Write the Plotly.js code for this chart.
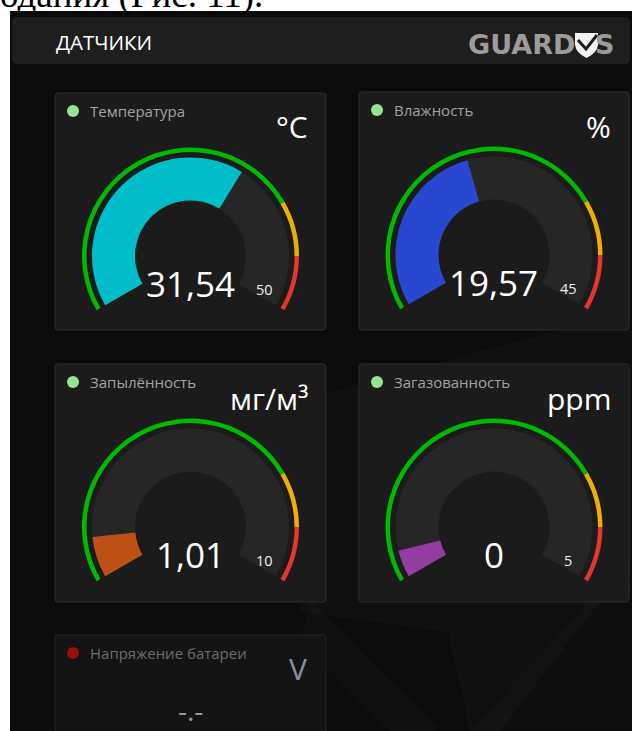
<!DOCTYPE html>
<html>
<head>
<meta charset="utf-8">
<script src="https://cdn.plot.ly/plotly-3.0.1.min.js"></script>
<style>
html,body{margin:0;padding:0;background:#ffffff;overflow:hidden;}
#chart{width:632px;height:731px;}
</style>
</head>
<body>
<div id="chart"></div>
<script>
// ---- data ----
const sensorTitles = ['Температура', 'Влажность', 'Запылённость', 'Загазованность'];
const sensorUnits = ['°C', '%', 'мг/м³', 'ppm'];
const sensorValues = [31.54, 19.57, 1.01, 0];
const sensorValueLabels = ['31,54', '19,57', '1,01', '0'];
const sensorMax = [50, 45, 10, 5];
const sensorMaxLabels = ['50', '45', '10', '5'];
const fillColors = ['#00bdca', '#2848d2', '#bd5115', '#923d9f'];
const thresholdFractions = [0.75, 0.875, 1.0];
const thresholdColors = ['#00ba00', '#efaf00', '#e2362f'];
const batteryTitle = 'Напряжение батареи';
const batteryUnit = 'V';
const batteryValueLabel = '-.-';
const headerTitle = 'ДАТЧИКИ';
const pageText = 'одания (Рис. 11).';

// ---- geometry / style ----
const W = 632, H = 731;
const SWEEP = 240, START = 210, MIN_SWEEP = 16;
const panels = [[55, 93, 326, 330], [359, 92, 629, 330], [55, 364, 326, 602], [359, 364, 629, 602]];
const gaugeCenters = [[190.5, 256], [494, 255], [190.5, 527], [494, 527]];
const RR = 110;            // radial range = pixels
const trackIn = 55.5, trackOut = 98.5, arcIn = 104, arcOut = 108.5;
const FONT = 'Open Sans, Noto Sans, sans-serif';

const px = x => x / W;
const py = y => 1 - y / H;

function rrect(x0, y0, x1, y1, r) {
  return `M ${px(x0 + r)} ${py(y0)} L ${px(x1 - r)} ${py(y0)} Q ${px(x1)} ${py(y0)} ${px(x1)} ${py(y0 + r)} ` +
    `L ${px(x1)} ${py(y1 - r)} Q ${px(x1)} ${py(y1)} ${px(x1 - r)} ${py(y1)} L ${px(x0 + r)} ${py(y1)} ` +
    `Q ${px(x0)} ${py(y1)} ${px(x0)} ${py(y1 - r)} L ${px(x0)} ${py(y0 + r)} Q ${px(x0)} ${py(y0)} ${px(x0 + r)} ${py(y0)} Z`;
}
function poly(pts) {
  return 'M ' + pts.map(p => `${px(p[0])} ${py(p[1])}`).join(' L ') + ' Z';
}

const shapes = [];
const annotations = [];
const traces = [];
const layout = {
  width: W, height: H,
  margin: {l: 0, r: 0, t: 0, b: 0},
  paper_bgcolor: '#ffffff',
  plot_bgcolor: 'rgba(0,0,0,0)',
  showlegend: false,
  xaxis: {visible: false}, yaxis: {visible: false},
  shapes: shapes, annotations: annotations
};

// page background
shapes.push({type: 'rect', xref: 'paper', yref: 'paper', x0: px(10), x1: px(632), y0: py(731), y1: py(11),
  fillcolor: '#0b0b0b', line: {width: 0}, layer: 'below'});
// watermark
shapes.push({type: 'path', xref: 'paper', yref: 'paper', path: poly([[300, 400], [560, 330], [632, 330], [632, 560], [500, 731], [470, 731], [448, 632], [300, 612]]),
  fillcolor: 'rgba(255,255,255,0.022)', line: {width: 0}, layer: 'below'});
shapes.push({type: 'path', xref: 'paper', yref: 'paper', path: poly([[310, 600], [440, 731], [390, 731], [300, 640]]),
  fillcolor: 'rgba(255,255,255,0.018)', line: {width: 0}, layer: 'below'});
shapes.push({type: 'path', xref: 'paper', yref: 'paper', path: poly([[590, 600], [632, 580], [632, 731], [470, 731]]),
  fillcolor: 'rgba(255,255,255,0.016)', line: {width: 0}, layer: 'below'});
// header
shapes.push({type: 'path', xref: 'paper', yref: 'paper', path: rrect(12, 17, 630, 64, 5),
  fillcolor: '#1e1e1e', line: {width: 0}, layer: 'below'});

// text at top of page (cropped)
annotations.push({xref: 'paper', yref: 'paper', x: px(-2), y: py(18), xanchor: 'left', yanchor: 'bottom',
  text: pageText, showarrow: false, font: {family: 'Liberation Serif, Times New Roman, serif', size: 37, color: '#000000'}});

// header texts
annotations.push({xref: 'paper', yref: 'paper', x: px(54), y: py(42), xanchor: 'left', yanchor: 'middle',
  text: headerTitle, showarrow: false, font: {family: FONT, size: 20.5, color: '#ffffff'}});
annotations.push({xref: 'paper', yref: 'paper', x: px(577), y: py(45), xanchor: 'right', yanchor: 'middle',
  text: '<b>GUARD</b>', showarrow: false, font: {family: 'DejaVu Sans, sans-serif', size: 27, color: '#9c9c9c'}});
annotations.push({xref: 'paper', yref: 'paper', x: px(593), y: py(45), xanchor: 'left', yanchor: 'middle',
  text: '<b>S</b>', showarrow: false, font: {family: 'DejaVu Sans, sans-serif', size: 27, color: '#9c9c9c'}});
shapes.push({type: 'path', xref: 'paper', yref: 'paper',
  path: `M ${px(575)} ${py(33)} L ${px(598)} ${py(33)} L ${px(598)} ${py(45)} Q ${px(597)} ${py(53)} ${px(586.5)} ${py(58)} Q ${px(576)} ${py(53)} ${px(575)} ${py(45)} Z`,
  fillcolor: '#f2f2f2', line: {width: 0}});
shapes.push({type: 'path', xref: 'paper', yref: 'paper',
  path: `M ${px(578)} ${py(40)} L ${px(586)} ${py(49)} L ${px(597)} ${py(35)}`,
  line: {color: '#1e1e1e', width: 3}});

// panels
panels.forEach((p, i) => {
  shapes.push({type: 'path', xref: 'paper', yref: 'paper', path: rrect(p[0], p[1], p[2], p[3], 3),
    fillcolor: '#1b1b1b', line: {color: '#2f2f2f', width: 1}, layer: 'below'});
  // status dot
  shapes.push({type: 'circle', xref: 'paper', yref: 'paper', x0: px(p[0] + 12), x1: px(p[0] + 24),
    y0: py(p[1] + 24), y1: py(p[1] + 12), fillcolor: '#93e593', line: {width: 0}});
  annotations.push({xref: 'paper', yref: 'paper', x: px(p[0] + 33), y: py(p[1] + 18), xanchor: 'left', yanchor: 'middle',
    text: sensorTitles[i], showarrow: false, font: {family: FONT, size: 15, color: '#a3a3a3'}});
  annotations.push({xref: 'paper', yref: 'paper', x: px(p[2] - 16), y: py(p[1] + 34), xanchor: 'right', yanchor: 'middle',
    text: sensorUnits[i], showarrow: false, font: {family: FONT, size: 30, color: '#ffffff'}});
});

// battery panel
shapes.push({type: 'path', xref: 'paper', yref: 'paper', path: rrect(55, 635, 326, 745, 3),
  fillcolor: '#141414', line: {color: '#242424', width: 1}, layer: 'below'});
shapes.push({type: 'circle', xref: 'paper', yref: 'paper', x0: px(67), x1: px(79), y0: py(659), y1: py(647),
  fillcolor: '#9a0e0e', line: {width: 0}});
annotations.push({xref: 'paper', yref: 'paper', x: px(88), y: py(653), xanchor: 'left', yanchor: 'middle',
  text: batteryTitle, showarrow: false, font: {family: FONT, size: 15, color: '#6c6c6c'}});
annotations.push({xref: 'paper', yref: 'paper', x: px(309), y: py(668), xanchor: 'right', yanchor: 'middle',
  text: batteryUnit, showarrow: false, font: {family: FONT, size: 30, color: '#8d9197'}});
annotations.push({xref: 'paper', yref: 'paper', x: px(190), y: py(710), xanchor: 'center', yanchor: 'middle',
  text: batteryValueLabel, showarrow: false, font: {family: FONT, size: 28, color: '#9a9a9a'}});

// gauges
gaugeCenters.forEach((c, i) => {
  const key = i === 0 ? 'polar' : 'polar' + (i + 1);
  const sub = key;
  layout[key] = {
    domain: {x: [px(c[0] - RR), px(c[0] + RR)], y: [py(c[1] + RR), py(c[1] - RR)]},
    bgcolor: 'rgba(0,0,0,0)',
    barmode: 'overlay',
    radialaxis: {visible: false, range: [0, RR], showgrid: false},
    angularaxis: {visible: false, direction: 'clockwise', rotation: START, showgrid: false, showline: false, ticks: ''}
  };
  // track
  traces.push({type: 'barpolar', subplot: sub, theta: [SWEEP / 2], width: [SWEEP], base: [trackIn], r: [trackOut - trackIn],
    marker: {color: '#262626', line: {width: 0}}, hoverinfo: 'skip'});
  // value fill
  const sweep = Math.max(sensorValues[i] / sensorMax[i] * SWEEP, MIN_SWEEP);
  traces.push({type: 'barpolar', subplot: sub, theta: [sweep / 2], width: [sweep], base: [trackIn], r: [trackOut - trackIn],
    marker: {color: fillColors[i], line: {width: 0}}, hoverinfo: 'skip'});
  // threshold arcs
  const th = [], wd = [], cols = [];
  let prev = 0;
  thresholdFractions.forEach((f, j) => {
    th.push((prev + f) / 2 * SWEEP); wd.push((f - prev) * SWEEP); cols.push(thresholdColors[j]); prev = f;
  });
  traces.push({type: 'barpolar', subplot: sub, theta: th, width: wd, base: th.map(() => arcIn), r: th.map(() => arcOut - arcIn),
    marker: {color: cols, line: {width: 0}}, hoverinfo: 'skip'});
  // value & max labels
  annotations.push({xref: 'paper', yref: 'paper', x: px(c[0]), y: py(c[1] + 27), xanchor: 'center', yanchor: 'middle',
    text: sensorValueLabels[i], showarrow: false, font: {family: FONT, size: 35, color: '#ffffff'}});
  annotations.push({xref: 'paper', yref: 'paper', x: px(c[0] + 74), y: py(c[1] + 33), xanchor: 'center', yanchor: 'middle',
    text: sensorMaxLabels[i], showarrow: false, font: {family: FONT, size: 14.5, color: '#f0f0f0'}});
});

Plotly.newPlot('chart', traces, layout, {staticPlot: true, displayModeBar: false});
</script>
</body>
</html>
